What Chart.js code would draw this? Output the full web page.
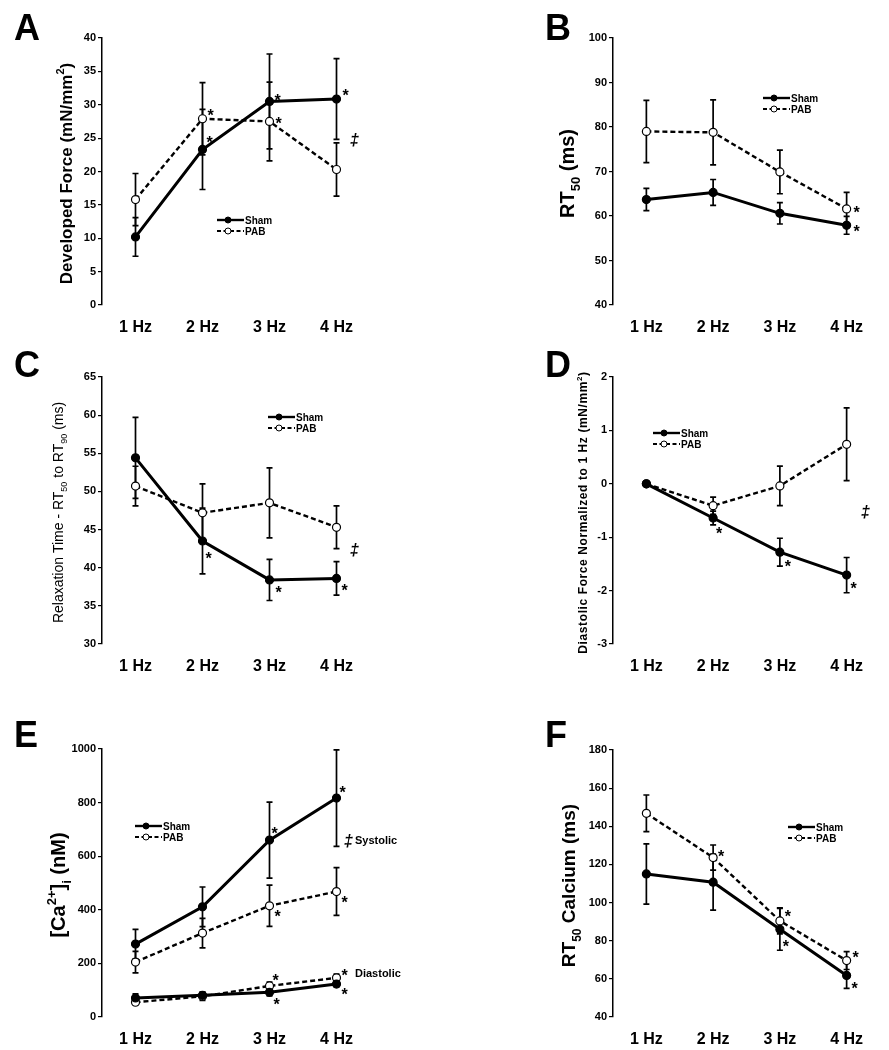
<!DOCTYPE html>
<html>
<head>
<meta charset="utf-8">
<script src="https://cdn.jsdelivr.net/npm/chart.js@4.4.1/dist/chart.umd.min.js"></script>
<style>
  body { margin:0; background:#fff; }
  #wrap { position:relative; width:889px; height:1050px; }
  #wrap canvas { position:absolute; }
</style>
</head>
<body>
<div id="wrap">
  <canvas id="cA" width="440" height="340" style="left:0;top:0"></canvas>
  <canvas id="cB" width="449" height="340" style="left:440px;top:0"></canvas>
  <canvas id="cC" width="440" height="340" style="left:0;top:340px"></canvas>
  <canvas id="cD" width="449" height="340" style="left:440px;top:340px"></canvas>
  <canvas id="cE" width="440" height="370" style="left:0;top:680px"></canvas>
  <canvas id="cF" width="449" height="370" style="left:440px;top:680px"></canvas>
</div>
<script>
var categories = ['1 Hz', '2 Hz', '3 Hz', '4 Hz'];

// A - developed force
var aSham = [10.2, 23.3, 30.5, 30.85];
var aShamErr = [2.9, 6.0, 7.1, 6.05];
var aPab = [15.8, 27.9, 27.5, 20.3];
var aPabErr = [3.9, 5.4, 5.9, 4.0];

// B - RT50
var bSham = [63.7, 65.3, 60.6, 57.9];
var bShamErr = [2.5, 2.9, 2.4, 2.0];
var bPab = [79.0, 78.8, 69.9, 61.6];
var bPabErr = [7.0, 7.3, 4.9, 3.7];

// C - relaxation time RT50 to RT90
var cSham = [54.4, 43.5, 38.4, 38.6];
var cShamErr = [5.3, 4.3, 2.7, 2.2];
var cPab = [50.7, 47.2, 48.5, 45.3];
var cPabErr = [2.6, 3.8, 4.6, 2.8];

// D - diastolic force normalized to 1 Hz
var dSham = [0, -0.64, -1.28, -1.71];
var dShamErr = [0, 0.13, 0.26, 0.33];
var dPab = [0, -0.41, -0.04, 0.74];
var dPabErr = [0, 0.16, 0.37, 0.68];

// E - [Ca2+]i systolic / diastolic
var eShamSys = [272, 411, 660, 817];
var eShamSysErr = [55, 74, 142, 180];
var ePabSys = [205, 313, 415, 468];
var ePabSysErr = [40, 55, 77, 89];
var eShamDia = [71, 81, 92, 123];
var eShamDiaErr = [15, 12, 13, 10];
var ePabDia = [55, 77, 116, 146];
var ePabDiaErr = [8, 15, 14, 14];

// F - RT50 calcium
var fSham = [115.0, 110.7, 86.0, 61.8];
var fShamErr = [15.8, 14.7, 11.0, 6.8];
var fPab = [146.8, 123.6, 90.4, 69.6];
var fPabErr = [9.6, 6.6, 6.8, 4.7];

var yMinA = 0, yMaxA = 40, yStepA = 5;
var yMinB = 40, yMaxB = 100, yStepB = 10;
var yMinC = 30, yMaxC = 65, yStepC = 5;
var yMinD = -3, yMaxD = 2, yStepD = 1;
var yMinE = 0, yMaxE = 1000, yStepE = 200;
var yMinF = 40, yMaxF = 180, yStepF = 20;

var FONT = 'Arial, "Liberation Sans", Helvetica, sans-serif';

var panels = [
  { id:'cA', letter:'A', area:[102,370,38,305], y:[yMinA,yMaxA,yStepA],
    series:[{d:aSham,e:aShamErr,s:'sham'},{d:aPab,e:aPabErr,s:'pab'}],
    title:{x:66, size:17, bold:true, parts:[['Developed Force (mN/mm','n'],['2','sup'],[')','n']]},
    legend:[217,220],
    stars:[[0,1,7,-10],[1,1,8,-6],[0,2,8,-4],[1,2,9,-1],[0,3,9,-6]],
    notes:[['\u2021',350,141,'bold italic 16px']] },
  { id:'cB', letter:'B', area:[173,440,38,305], y:[yMinB,yMaxB,yStepB],
    series:[{d:bSham,e:bShamErr,s:'sham'},{d:bPab,e:bPabErr,s:'pab'}],
    title:{x:127, size:20, bold:true, parts:[['RT','n'],['50','sub'],[' (ms)','n']]},
    legend:[323,98],
    stars:[[1,3,10,1],[0,3,10,3]],
    notes:[] },
  { id:'cC', letter:'C', area:[102,370,37,304], y:[yMinC,yMaxC,yStepC],
    series:[{d:cSham,e:cShamErr,s:'sham'},{d:cPab,e:cPabErr,s:'pab'}],
    title:{x:58, size:14, bold:false, parts:[['Relaxation Time - RT','n'],['50','sub'],[' to RT','n'],['90','sub'],[' (ms)','n']]},
    legend:[268,77],
    stars:[[0,1,6,15],[0,2,9,10],[0,3,8,9]],
    notes:[['\u2021',350,211,'bold italic 16px']] },
  { id:'cD', letter:'D', area:[173,440,37,304], y:[yMinD,yMaxD,yStepD],
    series:[{d:dSham,e:dShamErr,s:'sham'},{d:dPab,e:dPabErr,s:'pab'}],
    title:{x:143, size:12, bold:true, spacing:'0.6px', parts:[['Diastolic Force Normalized to 1 Hz (mN/mm','n'],['2','sup'],[')','n']]},
    legend:[213,93],
    stars:[[0,1,6,13],[0,2,8,11],[0,3,7,10]],
    notes:[['\u2021',421,173,'bold italic 16px']] },
  { id:'cE', letter:'E', area:[102,370,69,337], y:[yMinE,yMaxE,yStepE],
    series:[{d:eShamSys,e:eShamSysErr,s:'sham'},{d:ePabSys,e:ePabSysErr,s:'pab'},
            {d:eShamDia,e:eShamDiaErr,s:'sham'},{d:ePabDia,e:ePabDiaErr,s:'pab'}],
    title:{x:58, size:20, bold:true, parts:[['[Ca','n'],['2+','sup'],[']','n'],['i','sub'],[' (nM)','n']]},
    legend:[135,146],
    stars:[[0,2,5,-10],[0,3,6,-8],[1,2,8,8],[1,3,8,8],[3,2,6,-8],[3,3,8,-5],[2,2,7,9],[2,3,8,8]],
    notes:[['\u2021',344,162,'bold italic 16px'],['Systolic',355,161,'bold 11px'],['Diastolic',355,294,'bold 11px']] },
  { id:'cF', letter:'F', area:[173,440,70,337], y:[yMinF,yMaxF,yStepF],
    series:[{d:fSham,e:fShamErr,s:'sham'},{d:fPab,e:fPabErr,s:'pab'}],
    title:{x:128, size:19, bold:true, parts:[['RT','n'],['50','sub'],[' Calcium (ms)','n']]},
    legend:[348,147],
    stars:[[1,1,8,-4],[1,2,8,-7],[0,2,6,14],[1,3,9,-6],[0,3,8,10]],
    notes:[] }
];

function drawRich(ctx, parts, x, y, size, bold, spacing) {
  ctx.save();
  ctx.translate(x, y);
  ctx.rotate(-Math.PI / 2);
  ctx.fillStyle = '#000';
  ctx.textBaseline = 'alphabetic';
  ctx.textAlign = 'left';
  if (spacing) ctx.letterSpacing = spacing;
  var w = (bold ? 'bold ' : '');
  var total = 0, widths = [];
  parts.forEach(function(p) {
    var fs = p[1] === 'n' ? size : Math.round(size * 0.65);
    ctx.font = w + fs + 'px ' + FONT;
    var mw = ctx.measureText(p[0]).width;
    widths.push(mw);
    total += mw;
  });
  var cx = -total / 2;
  var base = size * 0.36;
  parts.forEach(function(p, i) {
    var fs = p[1] === 'n' ? size : Math.round(size * 0.65);
    ctx.font = w + fs + 'px ' + FONT;
    var dy = p[1] === 'sub' ? size * 0.3 : (p[1] === 'sup' ? -size * 0.45 : 0);
    ctx.fillText(p[0], cx, base + dy);
    cx += widths[i];
  });
  ctx.restore();
}

function legendRow(ctx, x, y, dashed, label) {
  ctx.save();
  ctx.strokeStyle = '#000';
  ctx.lineWidth = dashed ? 1.8 : 2.4;
  ctx.setLineDash(dashed ? [4, 2.5] : []);
  ctx.beginPath(); ctx.moveTo(x, y); ctx.lineTo(x + 27, y); ctx.stroke();
  ctx.setLineDash([]);
  ctx.beginPath(); ctx.arc(x + 11, y, 3, 0, Math.PI * 2);
  ctx.fillStyle = dashed ? '#fff' : '#000';
  ctx.fill();
  ctx.lineWidth = 1;
  ctx.stroke();
  ctx.fillStyle = '#000';
  ctx.font = 'bold 10px ' + FONT;
  ctx.textBaseline = 'middle';
  ctx.fillText(label, x + 28, y + 1);
  ctx.restore();
}

var figPlugin = {
  id: 'fig',
  beforeDatasetsDraw: function(chart) {
    var p = chart.options.plugins.fig.panel;
    var ctx = chart.ctx, ys = chart.scales.y, xs = chart.scales.x;
    ctx.save();
    ctx.strokeStyle = '#000';
    ctx.lineWidth = 1.7;
    p.series.forEach(function(s) {
      s.d.forEach(function(v, i) {
        if (!s.e[i]) return;
        var x = xs.getPixelForValue(i);
        var y1 = ys.getPixelForValue(v + s.e[i]);
        var y2 = ys.getPixelForValue(v - s.e[i]);
        ctx.beginPath();
        ctx.moveTo(x, y1); ctx.lineTo(x, y2);
        ctx.moveTo(x - 3, y1); ctx.lineTo(x + 3, y1);
        ctx.moveTo(x - 3, y2); ctx.lineTo(x + 3, y2);
        ctx.stroke();
      });
    });
    ctx.restore();
  },
  afterDraw: function(chart) {
    var p = chart.options.plugins.fig.panel;
    var ctx = chart.ctx;
    // panel letter
    ctx.save();
    ctx.fillStyle = '#000';
    ctx.font = 'bold 36px ' + FONT;
    ctx.textBaseline = 'alphabetic';
    var ly = p.id === 'cE' || p.id === 'cF' ? 67 : (p.id === 'cC' || p.id === 'cD' ? 37 : 40);
    var lx = (p.id === 'cA' || p.id === 'cC' || p.id === 'cE') ? 14 : 105;
    ctx.fillText(p.letter, lx, ly);
    ctx.restore();
    // axis title
    drawRich(ctx, p.title.parts, p.title.x, (p.area[2] + p.area[3]) / 2 + 2, p.title.size, p.title.bold, p.title.spacing);
    // legend
    legendRow(ctx, p.legend[0], p.legend[1], false, 'Sham');
    legendRow(ctx, p.legend[0], p.legend[1] + 11, true, 'PAB');
    // asterisks
    var el;
    ctx.save();
    ctx.fillStyle = '#000';
    ctx.font = 'bold 16px ' + FONT;
    ctx.textAlign = 'center';
    ctx.textBaseline = 'middle';
    p.stars.forEach(function(st) {
      el = chart.getDatasetMeta(st[0]).data[st[1]];
      ctx.fillText('*', el.x + st[2], el.y + st[3] + 4);
    });
    ctx.textAlign = 'left';
    p.notes.forEach(function(n) {
      ctx.font = n[3] + ' ' + FONT;
      ctx.fillText(n[0], n[1], n[2]);
    });
    ctx.restore();
  }
};

panels.forEach(function(p) {
  var canvas = document.getElementById(p.id);
  var W = canvas.width, H = canvas.height;
  var datasets = p.series.map(function(s) {
    var pab = s.s === 'pab';
    return {
      data: s.d,
      borderColor: '#000',
      borderWidth: pab ? 2.4 : 3,
      borderDash: pab ? [5, 3] : [],
      pointRadius: 4,
      pointBackgroundColor: pab ? '#fff' : '#000',
      pointBorderColor: '#000',
      pointBorderWidth: 1.2,
      tension: 0,
      fill: false
    };
  });
  new Chart(canvas, {
    type: 'line',
    data: { labels: categories, datasets: datasets },
    plugins: [figPlugin],
    options: {
      responsive: false,
      animation: false,
      devicePixelRatio: 1,
      layout: { padding: { left: 0, right: W - p.area[1], top: p.area[2], bottom: 0 } },
      plugins: { legend: { display: false }, tooltip: { enabled: false }, fig: { panel: p } },
      scales: {
        x: {
          offset: true,
          grid: { display: false },
          border: { display: false },
          ticks: { color: '#000', font: { family: FONT, size: 16, weight: 'bold' }, padding: 5, maxRotation: 0 },
          afterFit: function(s) { s.height = H - p.area[3]; }
        },
        y: {
          min: p.y[0], max: p.y[1],
          ticks: { stepSize: p.y[2], color: '#000', font: { family: FONT, size: 11, weight: 'bold' }, padding: 2,
                   callback: function(v) { return String(v); } },
          grid: { drawOnChartArea: false, drawTicks: true, tickLength: 4, color: '#000', lineWidth: 1.2 },
          border: { display: true, color: '#000', width: 1.5 },
          afterFit: function(s) { s.width = p.area[0]; }
        }
      }
    }
  });
});
</script>
</body>
</html>
